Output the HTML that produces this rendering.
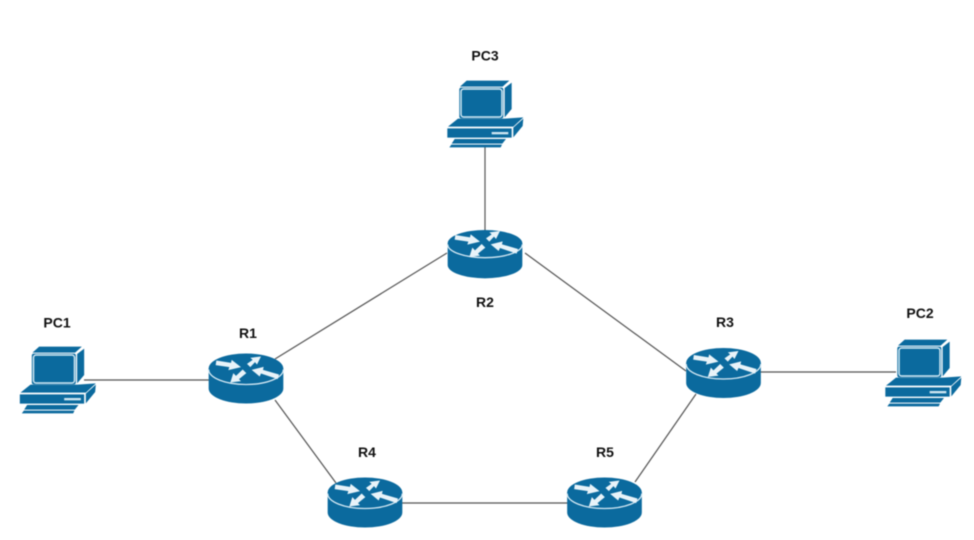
<!DOCTYPE html>
<html>
<head>
<meta charset="utf-8">
<style>
html,body{margin:0;padding:0;background:#fff;}
svg{display:block;filter:blur(.45px);}
text{font-family:"Liberation Sans",sans-serif;font-weight:bold;font-size:14px;fill:#111;text-anchor:middle;}
</style>
</head>
<body>
<svg width="974" height="540" viewBox="0 0 974 540" xmlns="http://www.w3.org/2000/svg">
<defs>
<g id="pc" transform="scale(0.3333)">
  <polygon points="110,122 238,122 218,140 90,140" fill="#0b6a9e"/>
  <polygon points="224,144 245,128 245,207 224,232" fill="#0b6a9e"/>
  <rect x="88" y="143" width="132" height="92" rx="6" fill="#0b6a9e"/>
  <rect x="93" y="147" width="123" height="84" rx="8" fill="none" stroke="#cfe6f2" stroke-width="4.5"/>
  <rect x="104" y="154" width="103" height="70" rx="5" fill="#0b6a9e"/>
  <polygon points="84,236 100,236 225,236 280,232 250,260 54,260" fill="#0b6a9e"/>
  <polygon points="52,265 245,265 245,293 52,293" fill="#0b6a9e"/>
  <polygon points="250,263 280,236 278,258 250,292" fill="#0b6a9e"/>
  <rect x="185" y="276" width="50" height="7" fill="#cfe6f2"/>
  <polygon points="74,297 228,297 217,311 65,311" fill="#0b6a9e"/>
  <polygon points="64,314 216,314 212,322 58,322" fill="#0b6a9e"/>
</g>
<g id="ar">
  <g fill="#e8f3f9">
    <polygon points="76,60 120,67 122,58 150,80 112,89 115,80 74,74"/>
    <polygon points="168,70 185,58 178,52 210,48 198,72 192,65 178,80"/>
    <polygon points="166,98 144,116 150,122 118,126 127,98 135,106 155,87"/>
    <polygon points="264,102 216,88 218,79 182,88 206,108 210,99 260,116"/>
  </g>
</g>
<g id="rt" transform="scale(0.3333)">
  <path d="M53,85 V150 A112,40 0 0 0 277,150 V85 Z" fill="#0b6a9e"/>
  <ellipse cx="165" cy="85" rx="112" ry="40" fill="#0b6a9e"/>
  <path d="M53,88 A112,40 0 0 0 277,88" fill="none" stroke="#d5e9f4" stroke-width="4"/>
  <use href="#ar"/>
</g>
<g id="rt2" transform="scale(0.3333)">
  <path d="M53,90 V150 A112,45 0 0 0 277,150 V90 Z" fill="#0b6a9e"/>
  <ellipse cx="165" cy="90" rx="112" ry="45" fill="#0b6a9e"/>
  <path d="M53,93 A112,45 0 0 0 277,93" fill="none" stroke="#d5e9f4" stroke-width="4"/>
  <use href="#ar" transform="translate(0,6)"/>
</g>
</defs>
<rect width="974" height="540" fill="#ffffff"/>
<g stroke="#555" stroke-width="1.2" fill="none">
  <line x1="485" y1="146" x2="485" y2="232"/>
  <line x1="447" y1="253" x2="275" y2="359"/>
  <line x1="525" y1="253" x2="686" y2="371"/>
  <line x1="84" y1="380" x2="210" y2="380"/>
  <line x1="275" y1="400" x2="336" y2="483"/>
  <line x1="402" y1="503" x2="568" y2="503"/>
  <line x1="635" y1="482" x2="696" y2="394"/>
  <line x1="760" y1="372" x2="896" y2="372"/>
</g>
<use href="#pc" x="430" y="40"/>
<use href="#pc" x="2.5" y="306"/>
<use href="#pc" x="868" y="299"/>
<use href="#rt" x="430" y="215"/>
<use href="#rt2" x="191" y="338.5"/>
<use href="#rt2" x="668.5" y="333"/>
<use href="#rt2" x="310" y="462.5"/>
<use href="#rt2" x="549.5" y="462.5"/>
<text x="485" y="60.5">PC3</text>
<text x="57" y="327.5">PC1</text>
<text x="920" y="318">PC2</text>
<text x="485" y="307">R2</text>
<text x="248" y="338">R1</text>
<text x="725" y="327">R3</text>
<text x="367" y="457">R4</text>
<text x="605" y="457">R5</text>
</svg>
</body>
</html>
